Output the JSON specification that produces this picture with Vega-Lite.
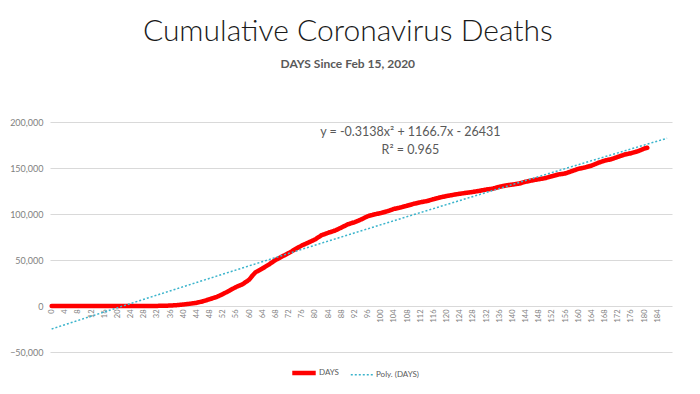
{
  "$schema": "https://vega.github.io/schema/vega-lite/v6.json",
  "width": 622,
  "height": 230,
  "autosize": {"type": "none"},
  "padding": {"left": 50, "top": 122, "right": 28, "bottom": 42},
  "background": "white",
  "title": {
    "text": "Cumulative Coronavirus Deaths",
    "subtitle": "DAYS Since Feb 15, 2020",
    "anchor": "middle",
    "frame": "bounds",
    "font": "Lato",
    "fontSize": 30,
    "fontWeight": 300,
    "color": "#1a1a1a",
    "subtitleFont": "Lato",
    "subtitleFontSize": 12,
    "subtitleFontWeight": "bold",
    "subtitleColor": "#595959",
    "subtitlePadding": 12,
    "offset": 48,
    "dx": 7
  },
  "config": {
    "view": {"stroke": null},
    "font": "Lato"
  },
  "layer": [
    {
      "data": {
        "values": [
          {"day": 0, "deaths": 0}, {"day": 2, "deaths": 0}, {"day": 4, "deaths": 0}, {"day": 6, "deaths": 0},
          {"day": 8, "deaths": 0}, {"day": 10, "deaths": 0}, {"day": 12, "deaths": 0}, {"day": 14, "deaths": 1},
          {"day": 16, "deaths": 2}, {"day": 18, "deaths": 9}, {"day": 20, "deaths": 14}, {"day": 22, "deaths": 22},
          {"day": 24, "deaths": 28}, {"day": 26, "deaths": 38}, {"day": 28, "deaths": 50}, {"day": 30, "deaths": 85},
          {"day": 32, "deaths": 118}, {"day": 34, "deaths": 244}, {"day": 36, "deaths": 471}, {"day": 38, "deaths": 944},
          {"day": 40, "deaths": 1581}, {"day": 42, "deaths": 2467}, {"day": 44, "deaths": 3400}, {"day": 46, "deaths": 5102},
          {"day": 48, "deaths": 7392}, {"day": 50, "deaths": 9618}, {"day": 52, "deaths": 12907}, {"day": 54, "deaths": 16686},
          {"day": 56, "deaths": 20580}, {"day": 58, "deaths": 23649}, {"day": 60, "deaths": 28529}, {"day": 61, "deaths": 33000},
          {"day": 62, "deaths": 36773}, {"day": 64, "deaths": 40661}, {"day": 66, "deaths": 45063}, {"day": 68, "deaths": 49954},
          {"day": 70, "deaths": 53755}, {"day": 72, "deaths": 57500}, {"day": 74, "deaths": 61656}, {"day": 76, "deaths": 65753},
          {"day": 78, "deaths": 68934}, {"day": 80, "deaths": 72271}, {"day": 82, "deaths": 76928}, {"day": 84, "deaths": 79528},
          {"day": 86, "deaths": 81795}, {"day": 88, "deaths": 85197}, {"day": 90, "deaths": 88754}, {"day": 92, "deaths": 90978},
          {"day": 94, "deaths": 94000}, {"day": 96, "deaths": 97500}, {"day": 98, "deaths": 99500}, {"day": 100, "deaths": 101000},
          {"day": 102, "deaths": 103000}, {"day": 104, "deaths": 105500}, {"day": 106, "deaths": 107000}, {"day": 108, "deaths": 109000},
          {"day": 110, "deaths": 111000}, {"day": 112, "deaths": 112700}, {"day": 114, "deaths": 114000}, {"day": 116, "deaths": 116000},
          {"day": 118, "deaths": 118000}, {"day": 120, "deaths": 119500}, {"day": 122, "deaths": 120800}, {"day": 124, "deaths": 122000},
          {"day": 126, "deaths": 123000}, {"day": 128, "deaths": 124000}, {"day": 130, "deaths": 125200}, {"day": 132, "deaths": 126500},
          {"day": 134, "deaths": 127500}, {"day": 136, "deaths": 129500}, {"day": 138, "deaths": 131000}, {"day": 140, "deaths": 132000},
          {"day": 142, "deaths": 133000}, {"day": 144, "deaths": 135000}, {"day": 146, "deaths": 136500}, {"day": 148, "deaths": 137800},
          {"day": 150, "deaths": 139000}, {"day": 152, "deaths": 141000}, {"day": 154, "deaths": 143000}, {"day": 156, "deaths": 144000},
          {"day": 158, "deaths": 146500}, {"day": 160, "deaths": 149000}, {"day": 162, "deaths": 150500}, {"day": 164, "deaths": 152500},
          {"day": 166, "deaths": 155500}, {"day": 168, "deaths": 158000}, {"day": 170, "deaths": 159500}, {"day": 172, "deaths": 162000},
          {"day": 174, "deaths": 164500}, {"day": 176, "deaths": 166000}, {"day": 178, "deaths": 168000}, {"day": 180, "deaths": 171000},
          {"day": 181, "deaths": 172000}
        ]
      },
      "layer": [
        {
          "mark": {"type": "line", "strokeCap": "round", "strokeJoin": "round"},
          "encoding": {
            "x": {"field": "day", "type": "quantitative"},
            "y": {"field": "deaths", "type": "quantitative"},
            "color": {"datum": "DAYS", "type": "nominal"},
            "strokeDash": {"datum": "DAYS", "type": "nominal"},
            "strokeWidth": {"datum": "DAYS", "type": "nominal"}
          }
        },
        {
          "transform": [
            {"regression": "deaths", "on": "day", "method": "poly", "order": 2, "extent": [0, 187]}
          ],
          "mark": {"type": "line"},
          "encoding": {
            "x": {"field": "day", "type": "quantitative"},
            "y": {"field": "deaths", "type": "quantitative"},
            "color": {"datum": "Poly. (DAYS)", "type": "nominal"},
            "strokeDash": {"datum": "Poly. (DAYS)", "type": "nominal"},
            "strokeWidth": {"datum": "Poly. (DAYS)", "type": "nominal"}
          }
        }
      ]
    },
    {
      "data": {
        "values": [
          {"day": 109, "deaths": 189000, "label": "y = -0.3138x² + 1166.7x - 26431"},
          {"day": 109, "deaths": 169200, "label": "R² = 0.965"}
        ]
      },
      "mark": {"type": "text", "font": "Lato", "fontSize": 12.5, "color": "#595959", "baseline": "middle", "align": "center"},
      "encoding": {
        "x": {"field": "day", "type": "quantitative"},
        "y": {"field": "deaths", "type": "quantitative"},
        "text": {"field": "label", "type": "nominal"}
      }
    }
  ],
  "resolve": {"scale": {"x": "shared", "y": "shared"}},
  "encoding": {
    "x": {
      "field": "day",
      "type": "quantitative",
      "scale": {"domain": [-0.5, 188.5], "nice": false, "zero": false},
      "axis": {
        "title": null,
        "values": [0,4,8,12,16,20,24,28,32,36,40,44,48,52,56,60,64,68,72,76,80,84,88,92,96,100,104,108,112,116,120,124,128,132,136,140,144,148,152,156,160,164,168,172,176,180,184],
        "labelAngle": -90,
        "labelFontSize": 7.5,
        "labelColor": "#7f7f7f",
        "labelOverlap": false,
        "labelFlush": false,
        "labelPadding": 3,
        "domain": false,
        "ticks": false,
        "grid": false,
        "offset": -46
      }
    },
    "y": {
      "field": "deaths",
      "type": "quantitative",
      "scale": {"domain": [-50000, 200000], "nice": false, "zero": false},
      "axis": {
        "title": null,
        "values": [-50000, 0, 50000, 100000, 150000, 200000],
        "format": ",.0f",
        "labelFontSize": 9,
        "labelColor": "#7f7f7f",
        "labelPadding": 7,
        "domain": false,
        "ticks": false,
        "grid": true,
        "gridColor": "#d9d9d9",
        "gridWidth": 1
      }
    },
    "color": {
      "scale": {"domain": ["DAYS", "Poly. (DAYS)"], "range": ["#ff0000", "#3bb4cc"]},
      "legend": {
        "title": null,
        "orient": "none",
        "legendX": 240,
        "legendY": 237,
        "direction": "horizontal",
        "symbolType": "stroke",
        "symbolSize": 550,
        "labelFontSize": 8,
        "labelColor": "#595959",
        "columnPadding": 8,
        "labelOffset": 1
      }
    },
    "strokeDash": {
      "scale": {"domain": ["DAYS", "Poly. (DAYS)"], "range": [[1, 0], [2, 2]]}
    },
    "strokeWidth": {
      "scale": {"domain": ["DAYS", "Poly. (DAYS)"], "range": [4.5, 1.5]}
    }
  }
}
